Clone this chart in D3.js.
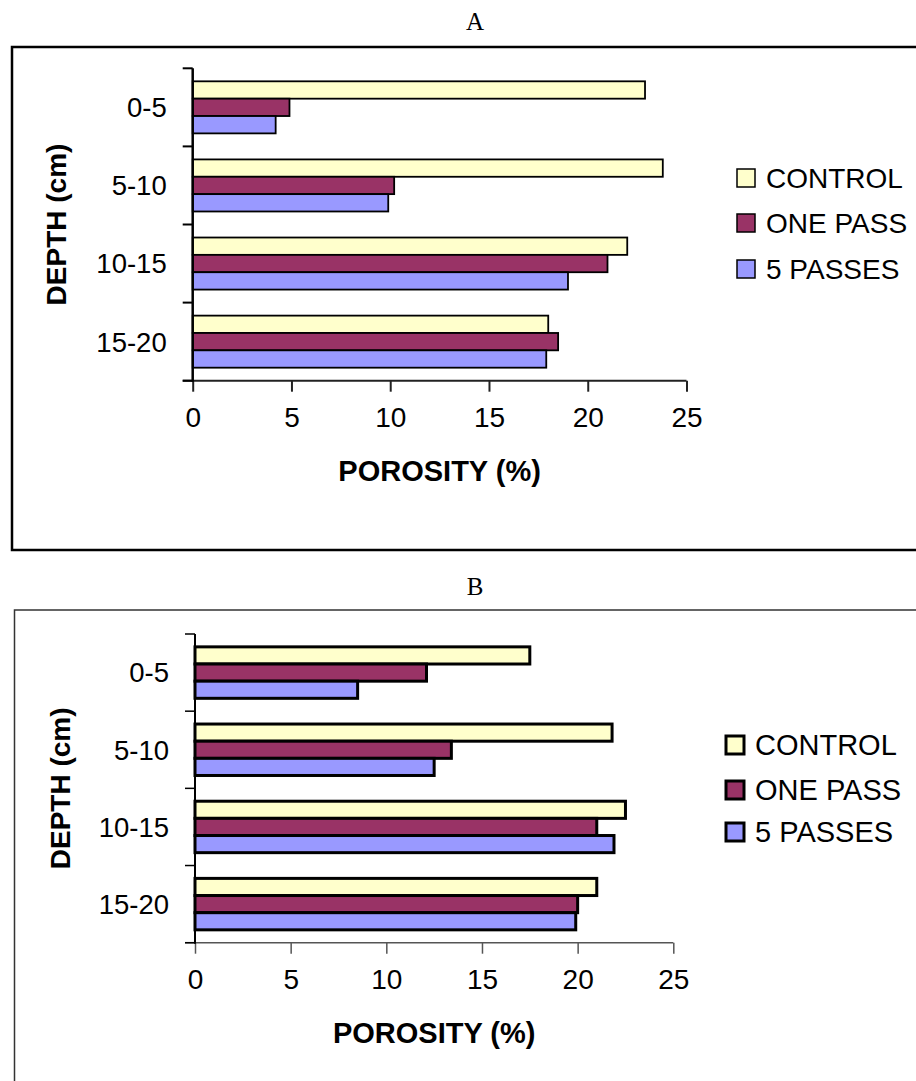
<!DOCTYPE html>
<html>
<head>
<meta charset="utf-8">
<script src="https://cdn.jsdelivr.net/npm/d3@7"></script>
<style>
  html, body { margin: 0; padding: 0; background: #fff; }
  svg { display: block; }
</style>
</head>
<body>
<svg id="chart" width="916" height="1081"></svg>
<script>
// Soil porosity by depth for three traffic treatments
const depths = ["0-5", "5-10", "10-15", "15-20"];
const seriesNames = ["CONTROL", "ONE PASS", "5 PASSES"];
const seriesColors = ["#FFFFCC", "#993366", "#9999FF"];
const xTickValues = [0, 5, 10, 15, 20, 25];

// Panel A
const controlA = [22.9, 23.8, 22.0, 18.0];
const onePassA = [4.9, 10.2, 21.0, 18.5];
const fivePassA = [4.2, 9.9, 19.0, 17.9];

// Panel B
const controlB = [17.5, 21.8, 22.5, 21.0];
const onePassB = [12.1, 13.4, 21.0, 20.0];
const fivePassB = [8.5, 12.5, 21.9, 19.9];

const svg = d3.select("#chart");

const panels = [
  {
    title: "A", titleY: 30,
    frame: { x: 12, y: 47, w: 920, h: 503, stroke: "#000", width: 2.5 },
    plot: { left: 192.7, right: 686.5, top: 68.3, bottom: 380.7 },
    values: [controlA, onePassA, fivePassA],
    barStroke: 1.8, axisColor: "#222", axisWidth: 2,
    legend: { x: 737, rows: [178, 223, 269], font: 28, swatchStroke: 1.5 },
    catFont: 27.5, tickFont: 28, titleFont: 29, yTitleX: 66
  },
  {
    title: "B", titleY: 595,
    frame: { x: 14.5, y: 610, w: 920, h: 500, stroke: "#333", width: 1.5 },
    plot: { left: 195, right: 673.3, top: 634, bottom: 942.7 },
    values: [controlB, onePassB, fivePassB],
    barStroke: 3, axisColor: "#555", axisWidth: 1.5,
    legend: { x: 726, rows: [745, 790, 832], font: 29, swatchStroke: 3 },
    catFont: 27.5, tickFont: 28, titleFont: 29, yTitleX: 70
  }
];

panels.forEach(p => {
  const g = svg.append("g");

  // outer chart border
  g.append("rect")
    .attr("x", p.frame.x).attr("y", p.frame.y)
    .attr("width", p.frame.w).attr("height", p.frame.h)
    .attr("fill", "none").attr("stroke", p.frame.stroke)
    .attr("stroke-width", p.frame.width);

  // panel letter
  g.append("text")
    .attr("x", 475).attr("y", p.titleY)
    .attr("text-anchor", "middle")
    .attr("font-family", "'Liberation Serif', 'Times New Roman', serif")
    .attr("font-size", 25)
    .text(p.title);

  const x = d3.scaleLinear().domain([0, 25]).range([p.plot.left, p.plot.right]);
  const y = d3.scaleBand().domain(depths).range([p.plot.top, p.plot.bottom]).padding(0);
  const ySub = d3.scaleBand().domain(seriesNames).range([0, y.bandwidth()])
    .paddingInner(0).paddingOuter(0.75);

  // bars
  seriesNames.forEach((s, si) => {
    g.append("g").selectAll("rect")
      .data(depths.map((d, i) => ({ depth: d, value: p.values[si][i] })))
      .join("rect")
      .attr("x", x(0))
      .attr("y", d => y(d.depth) + ySub(s))
      .attr("width", d => x(d.value) - x(0))
      .attr("height", ySub.bandwidth())
      .attr("fill", seriesColors[si])
      .attr("stroke", "#000")
      .attr("stroke-width", p.barStroke);
  });

  // x axis
  const xAxis = g.append("g")
    .attr("transform", `translate(0,${p.plot.bottom})`)
    .call(d3.axisBottom(x).tickValues(xTickValues).tickSize(11).tickPadding(15).tickSizeOuter(0));
  xAxis.select(".domain").attr("stroke", p.axisColor).attr("stroke-width", p.axisWidth)
    .attr("d", `M${p.plot.left - 10},0H${p.plot.right}`);
  xAxis.selectAll(".tick line").attr("stroke", p.axisColor).attr("stroke-width", p.axisWidth);
  xAxis.selectAll(".tick text")
    .attr("font-family", "'Liberation Sans', Arial, sans-serif")
    .attr("font-size", p.tickFont).attr("fill", "#000");

  // y axis: line with ticks at category boundaries
  const boundaries = depths.map(d => y(d)).concat([p.plot.bottom]);
  const yAxis = g.append("g");
  yAxis.append("line")
    .attr("x1", p.plot.left).attr("x2", p.plot.left)
    .attr("y1", p.plot.top).attr("y2", p.plot.bottom + 1)
    .attr("stroke", "#000").attr("stroke-width", p.axisWidth + 0.5);
  yAxis.selectAll("line.tick")
    .data(boundaries)
    .join("line").attr("class", "tick")
    .attr("x1", p.plot.left - 10).attr("x2", p.plot.left)
    .attr("y1", d => d).attr("y2", d => d)
    .attr("stroke", "#000").attr("stroke-width", p.axisWidth);
  yAxis.selectAll("text")
    .data(depths)
    .join("text")
    .attr("x", p.plot.left - 26)
    .attr("y", d => y(d) + y.bandwidth() / 2)
    .attr("dy", "0.36em")
    .attr("text-anchor", "end")
    .attr("font-family", "'Liberation Sans', Arial, sans-serif")
    .attr("font-size", p.catFont)
    .text(d => d);

  // axis titles
  g.append("text")
    .attr("x", (p.plot.left + p.plot.right) / 2)
    .attr("y", p.plot.bottom + 100)
    .attr("text-anchor", "middle")
    .attr("font-family", "'Liberation Sans', Arial, sans-serif")
    .attr("font-weight", "bold")
    .attr("font-size", p.titleFont)
    .text("POROSITY (%)");

  g.append("text")
    .attr("transform", `translate(${p.yTitleX},${(p.plot.top + p.plot.bottom) / 2}) rotate(-90)`)
    .attr("text-anchor", "middle")
    .attr("font-family", "'Liberation Sans', Arial, sans-serif")
    .attr("font-weight", "bold")
    .attr("font-size", 28)
    .text("DEPTH (cm)");

  // legend
  const leg = g.append("g");
  seriesNames.forEach((s, si) => {
    const cy = p.legend.rows[si];
    leg.append("rect")
      .attr("x", p.legend.x).attr("y", cy - 9)
      .attr("width", 18).attr("height", 18)
      .attr("fill", seriesColors[si])
      .attr("stroke", "#000").attr("stroke-width", p.legend.swatchStroke);
    leg.append("text")
      .attr("x", p.legend.x + 29).attr("y", cy)
      .attr("dy", "0.36em")
      .attr("font-family", "'Liberation Sans', Arial, sans-serif")
      .attr("font-size", p.legend.font)
      .text(s);
  });
});
</script>
</body>
</html>
